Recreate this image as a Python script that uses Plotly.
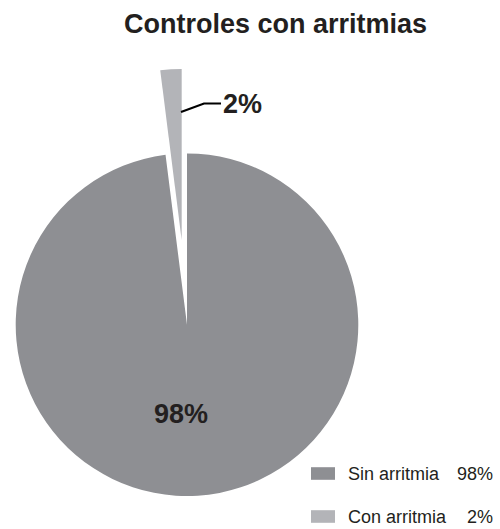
import plotly.graph_objects as go

# ---- data ----
labels = ["Sin arritmia", "Con arritmia"]
values = [98, 2]
colors = ["#8e8f93", "#b3b4b8"]
title_text = "Controles con arritmias"

W, H = 500, 529
FONT = "Liberation Sans, Arial, Helvetica, sans-serif"


def px(x):
    return x / W


def py(y):
    return 1 - y / H


R = 171.3
cx, cy = 187.0, 324.7          # main pie centre (pixels)
pcx, pcy = 181.7, 240.2        # centre of pulled-out slice (pixels)

def dom(cxp, cyp):
    return dict(x=[px(cxp - R), px(cxp + R)], y=[py(cyp + R), py(cyp - R)])

transparent = "rgba(0,0,0,0)"

fig = go.Figure()
# main slice(s)
fig.add_trace(go.Pie(
    labels=labels, values=values, sort=False, direction="clockwise", rotation=0,
    marker=dict(colors=[colors[0], transparent], line=dict(width=0)),
    textinfo="none", hoverinfo="label+percent", showlegend=False,
    domain=dom(cx, cy),
))
# pulled-out small slice
fig.add_trace(go.Pie(
    labels=labels, values=values, sort=False, direction="clockwise", rotation=0,
    marker=dict(colors=[transparent, colors[1]], line=dict(width=0)),
    textinfo="none", hoverinfo="label+percent", showlegend=False,
    domain=dom(pcx, pcy),
))

total = sum(values)
pct = [f"{round(v / total * 100)}%" for v in values]

annotations = [
    dict(text=f"<b>{title_text}</b>", x=px(275.5), y=py(24), xref="paper", yref="paper",
         xanchor="center", yanchor="middle", showarrow=False,
         font=dict(family=FONT, size=27, color="#231f20")),
    dict(text=f"<b>{pct[0]}</b>", x=px(181), y=py(414), xref="paper", yref="paper",
         xanchor="center", yanchor="middle", showarrow=False,
         font=dict(family=FONT, size=27, color="#231f20")),
    dict(text=f"<b>{pct[1]}</b>", x=px(221), y=py(104), xref="paper", yref="paper",
         xanchor="left", yanchor="middle", showarrow=False,
         font=dict(family=FONT, size=27, color="#231f20")),
]

shapes = [
    dict(type="path", xref="paper", yref="paper",
         path=f"M {px(181)} {py(112)} L {px(204)} {py(103.5)} L {px(221)} {py(103.5)}",
         line=dict(color="#000000", width=2.2)),
]

# custom legend
rows_y = [473.5, 516.5]
for i, lab in enumerate(labels):
    yc = rows_y[i]
    shapes.append(dict(type="rect", xref="paper", yref="paper",
                       x0=px(311), x1=px(335), y0=py(yc - 6.3), y1=py(yc + 6.3),
                       fillcolor=colors[i], line=dict(width=0)))
    annotations.append(dict(text=lab, x=px(347), y=py(yc), xref="paper", yref="paper",
                            xanchor="left", yanchor="middle", showarrow=False, borderpad=0,
                            font=dict(family=FONT, size=18, color="#231f20")))
    annotations.append(dict(text=pct[i], x=px(494), y=py(yc), xref="paper", yref="paper",
                            xanchor="right", yanchor="middle", showarrow=False, borderpad=0,
                            font=dict(family=FONT, size=18, color="#231f20")))

fig.update_layout(
    width=W, height=H,
    margin=dict(l=0, r=0, t=0, b=0),
    paper_bgcolor="white", plot_bgcolor="white",
    showlegend=False,
    annotations=annotations, shapes=shapes,
)

fig.write_html("out.html")
